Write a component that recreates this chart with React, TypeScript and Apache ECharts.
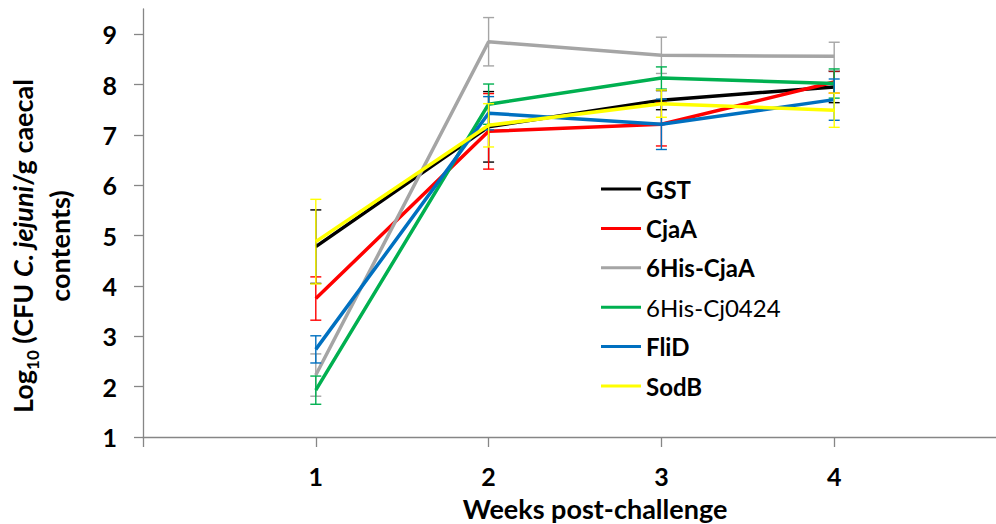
import { useEffect, useRef } from "react";
import * as echarts from "echarts";

const weeks = [1, 2, 3, 4];
const seriesNames = ["GST", "CjaA", "6His-CjaA", "6His-Cj0424", "FliD", "SodB"];
const seriesColors = ["#000000", "#FF0000", "#A5A5A5", "#00B050", "#0070C0", "#FFFF00"];

const gstMean = [4.78, 7.16, 7.69, 7.95];
const gstErr = [0.73, 0.7, 0.19, 0.31];
const cjaAMean = [3.75, 7.07, 7.21, 8.05];
const cjaAErr = [0.43, 0.75, 0.43, 0.22];
const hisCjaAMean = [2.23, 8.85, 8.58, 8.56];
const hisCjaAErr = [0.42, 0.48, 0.36, 0.28];
const hisCj0424Mean = [1.93, 7.61, 8.13, 8.02];
const hisCj0424Err = [0.28, 0.4, 0.22, 0.29];
const fliDMean = [2.74, 7.43, 7.21, 7.7];
const fliDErr = [0.27, 0.33, 0.5, 0.41];
const sodBMean = [4.88, 7.19, 7.62, 7.49];
const sodBErr = [0.84, 0.43, 0.27, 0.34];

const yTicks = [1, 2, 3, 4, 5, 6, 7, 8, 9];
const xTicks = [0, 1, 2, 3, 4, 5];
const xLabels = [1, 2, 3, 4];

const means = [gstMean, cjaAMean, hisCjaAMean, hisCj0424Mean, fliDMean, sodBMean];
const errs = [gstErr, cjaAErr, hisCjaAErr, hisCj0424Err, fliDErr, sodBErr];

const FONT = "Lato";
const AXIS_COLOR = "#868686";

export default function App() {
  const ref = useRef<HTMLDivElement>(null);
  useEffect(() => {
    if (!ref.current) return;
    const chart = echarts.init(ref.current, null, { renderer: "svg" });
    const series: any[] = [];
    seriesNames.forEach((name, i) => {
      const color = seriesColors[i];
      series.push({
        name,
        type: "line",
        color,
        itemStyle: { color },
        showSymbol: false,
        symbol: "none",
        lineStyle: { color, width: 3.5 },
        data: weeks.map((w, j) => [w, means[i][j]]),
        z: 2 + i * 0.01,
      });
      series.push({
        name,
        type: "custom",
        encode: { x: 0, y: [1, 2] },
        data: weeks.map((w, j) => [w, means[i][j] - errs[i][j], means[i][j] + errs[i][j]]),
        z: 2 + i * 0.01,
        renderItem: (params: any, api: any) => {
          const x = api.value(0);
          const p1 = api.coord([x, api.value(1)]);
          const p2 = api.coord([x, api.value(2)]);
          const hw = 5.5;
          const st = { stroke: color, lineWidth: 1.4 };
          return {
            type: "group",
            children: [
              { type: "line", shape: { x1: p1[0], y1: p1[1], x2: p2[0], y2: p2[1] }, style: st },
              { type: "line", shape: { x1: p1[0] - hw, y1: p1[1], x2: p1[0] + hw, y2: p1[1] }, style: st },
              { type: "line", shape: { x1: p2[0] - hw, y1: p2[1], x2: p2[0] + hw, y2: p2[1] }, style: st },
            ],
          };
        },
      });
    });

    chart.setOption({
      animation: false,
      grid: { left: 143, top: 9, height: 428, width: 864, outerBoundsMode: "none", containLabel: false },
      xAxis: {
        type: "value",
        min: 0,
        max: 5,
        interval: 1,
        splitLine: { show: false },
        axisLine: { lineStyle: { color: AXIS_COLOR, width: 1.3 } },
        axisTick: { show: true, length: 10, lineStyle: { color: AXIS_COLOR, width: 1.3 }, customValues: xTicks },
        axisLabel: {
          customValues: xLabels,
          color: "#000",
          fontFamily: FONT,
          fontWeight: "bold",
          fontSize: 25,
          margin: 26,
        },
      },
      yAxis: {
        type: "value",
        min: 1,
        max: 9.5,
        interval: 1,
        splitLine: { show: false },
        axisLine: { lineStyle: { color: AXIS_COLOR, width: 1.3 } },
        axisTick: { show: true, length: 9, lineStyle: { color: AXIS_COLOR, width: 1.3 }, customValues: yTicks },
        axisLabel: {
          customValues: yTicks,
          color: "#000",
          fontFamily: FONT,
          fontWeight: "bold",
          fontSize: 25,
          margin: 26,
        },
      },
      legend: {
        orient: "vertical",
        left: 596,
        top: 172,
        icon: "rect",
        itemWidth: 40,
        itemHeight: 3,
        itemGap: 15.4,
        data: seriesNames.map((n) => ({
          name: n,
          textStyle: n === "6His-Cj0424" ? { fontWeight: "normal" } : undefined,
        })),
        textStyle: {
          fontFamily: FONT,
          fontWeight: "bold",
          fontSize: 24,
          color: "#000",
          lineHeight: 24,
        },
      },
      graphic: [
        {
          type: "text",
          x: 595,
          y: 508,
          style: {
            text: "Weeks post-challenge",
            fill: "#000",
            font: `bold 27px ${FONT}`,
            align: "center",
            verticalAlign: "middle",
          },
        },
        {
          type: "text",
          x: 41,
          y: 246,
          rotation: Math.PI / 2,
          style: {
            text: "{n|Log}{sub|10}{n| (CFU }{i|C. jejuni}{n|/g caecal}\n{n|contents)}",
            align: "center",
            verticalAlign: "middle",
            rich: {
              n: { fontFamily: FONT, fontWeight: "bold", fontSize: 27, lineHeight: 37, fill: "#000" },
              i: { fontFamily: FONT, fontWeight: "bold", fontStyle: "italic", fontSize: 27, lineHeight: 37, fill: "#000" },
              sub: { fontFamily: FONT, fontWeight: "bold", fontSize: 17, lineHeight: 22, verticalAlign: "bottom", fill: "#000" },
            },
          },
        },
      ],
      series,
    });
    return () => chart.dispose();
  }, []);
  return <div ref={ref} style={{ width: 996, height: 524, position: "absolute", left: 0, top: 0 }} />;
}
